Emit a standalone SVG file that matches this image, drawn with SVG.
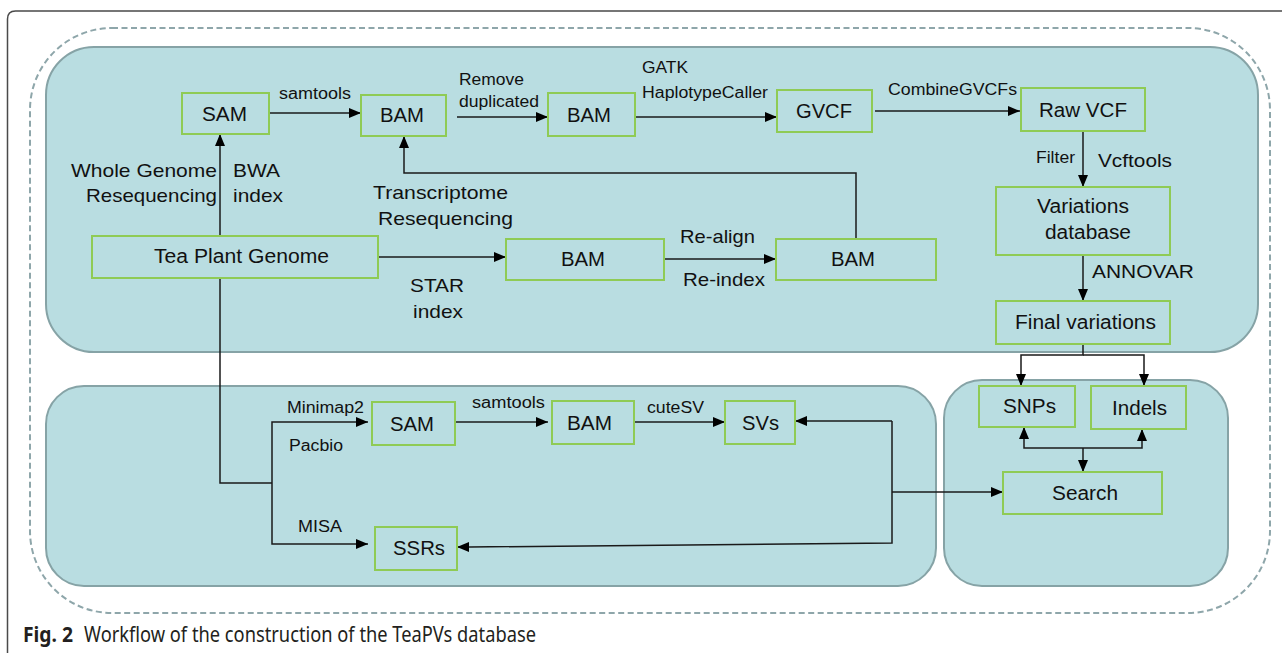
<svg xmlns="http://www.w3.org/2000/svg" width="1282" height="653" viewBox="0 0 1282 653">
  <defs>
    <marker id="arr" viewBox="0 0 12 10" refX="12" refY="5" markerWidth="12" markerHeight="10" markerUnits="userSpaceOnUse" orient="auto">
      <path d="M0,0 L12,5 L0,10 z" fill="#000"/>
    </marker>
    <style>
      .panel { fill: #b9dde1; stroke: #86a3a6; stroke-width: 2; }
      .node rect { fill: none; stroke: #8fcb55; stroke-width: 2; }
      .node text { font-family: "Liberation Sans", Arial, sans-serif; font-size: 20px; fill: #111; }
      .lbl { font-family: "Liberation Sans", Arial, sans-serif; fill: #111; }
      .sm { font-size: 16px; }
      .lg { font-size: 19px; }
      .conn path { fill: none; stroke: #1a1a1a; stroke-width: 1.5; }
      .cap { font-family: "Noto Sans", "Open Sans", sans-serif; font-size: 21px; fill: #231f20; }
    </style>
  </defs>

  <rect width="1282" height="653" fill="#ffffff"/>

  <!-- page frame -->
  <path d="M7.5,653 V19 Q7.5,11 15.5,11 H1282" fill="none" stroke="#4a4a4a" stroke-width="1.5"/>

  <!-- dashed outline around all stages -->
  <rect x="30" y="28" width="1240" height="585" rx="82" fill="none" stroke="#8ea6aa" stroke-width="2" stroke-dasharray="6 3.5"/>

  <!-- stage panels -->
  <rect id="panel-top" class="panel" x="46" y="47" width="1212" height="305" rx="48"/>
  <rect id="panel-bottom-left" class="panel" x="46" y="386" width="890" height="200" rx="38"/>
  <rect id="panel-bottom-right" class="panel" x="944" y="380" width="284" height="206" rx="38"/>

  <!-- connectors -->
  <g id="connectors" class="conn">
    <path d="M269,113 H361" marker-end="url(#arr)"/>
    <path d="M457,117 H548" marker-end="url(#arr)"/>
    <path d="M636,117 H777" marker-end="url(#arr)"/>
    <path d="M875,111 H1020" marker-end="url(#arr)"/>
    <path d="M1083,131 V187" marker-end="url(#arr)"/>
    <path d="M1083,255 V301" marker-end="url(#arr)"/>
    <path d="M1083,344 V355 H1021 V386" marker-end="url(#arr)"/>
    <path d="M1083,355 H1144 V386" marker-end="url(#arr)"/>
    <path d="M1083,448 V472" marker-end="url(#arr)"/>
    <path d="M1083,448 H1024 V427" marker-end="url(#arr)"/>
    <path d="M1083,448 H1142 V429" marker-end="url(#arr)"/>
    <path d="M220,236 V134" marker-end="url(#arr)"/>
    <path d="M220,278 V483 H272"/>
    <path d="M272,483 V422 H368" marker-end="url(#arr)"/>
    <path d="M272,483 V544 H368" marker-end="url(#arr)"/>
    <path d="M456,422 H548" marker-end="url(#arr)"/>
    <path d="M634,422 H725" marker-end="url(#arr)"/>
    <path d="M892,421 H795" marker-end="url(#arr)"/>
    <path d="M892,421 V543 L470,547 H457" marker-end="url(#arr)"/>
    <path d="M892,492 H1003" marker-end="url(#arr)"/>
    <path d="M378,257 H506" marker-end="url(#arr)"/>
    <path d="M664,259 H776" marker-end="url(#arr)"/>
    <path d="M856,239 V173 H404 V136" marker-end="url(#arr)"/>
  </g>

  <!-- nodes -->
  <g id="sam-top" class="node"><rect x="182" y="93" width="87" height="41"/><text x="202" y="121" textLength="45" lengthAdjust="spacingAndGlyphs">SAM</text></g>
  <g id="bam-1" class="node"><rect x="361" y="95" width="85" height="41"/><text x="380" y="122" textLength="44" lengthAdjust="spacingAndGlyphs">BAM</text></g>
  <g id="bam-2" class="node"><rect x="548" y="93" width="87" height="43"/><text x="567" y="122" textLength="44" lengthAdjust="spacingAndGlyphs">BAM</text></g>
  <g id="gvcf" class="node"><rect x="777" y="90" width="95" height="42"/><text x="796" y="118" textLength="56" lengthAdjust="spacingAndGlyphs">GVCF</text></g>
  <g id="raw-vcf" class="node"><rect x="1021" y="88" width="124" height="43"/><text x="1039" y="117" textLength="88" lengthAdjust="spacingAndGlyphs">Raw VCF</text></g>
  <g id="variations-db" class="node"><rect x="996" y="187" width="174" height="68"/>
    <text x="1037" y="213" textLength="92" lengthAdjust="spacingAndGlyphs">Variations</text>
    <text x="1045" y="239" textLength="86" lengthAdjust="spacingAndGlyphs">database</text></g>
  <g id="final-variations" class="node"><rect x="996" y="301" width="174" height="43"/><text x="1015" y="329" textLength="141" lengthAdjust="spacingAndGlyphs">Final variations</text></g>
  <g id="tea-genome" class="node"><rect x="92" y="236" width="286" height="42"/><text x="154" y="263" textLength="175" lengthAdjust="spacingAndGlyphs">Tea Plant Genome</text></g>
  <g id="bam-3" class="node"><rect x="506" y="239" width="158" height="41"/><text x="561" y="266" textLength="44" lengthAdjust="spacingAndGlyphs">BAM</text></g>
  <g id="bam-4" class="node"><rect x="776" y="239" width="160" height="41"/><text x="831" y="266" textLength="44" lengthAdjust="spacingAndGlyphs">BAM</text></g>
  <g id="sam-bottom" class="node"><rect x="372" y="402" width="83" height="43"/><text x="390" y="431" textLength="44" lengthAdjust="spacingAndGlyphs">SAM</text></g>
  <g id="ssrs" class="node"><rect x="375" y="527" width="82" height="43"/><text x="393" y="555" textLength="52" lengthAdjust="spacingAndGlyphs">SSRs</text></g>
  <g id="bam-bottom" class="node"><rect x="552" y="401" width="82" height="43"/><text x="567" y="430" textLength="45" lengthAdjust="spacingAndGlyphs">BAM</text></g>
  <g id="svs" class="node"><rect x="725" y="401" width="70" height="43"/><text x="742" y="430" textLength="37" lengthAdjust="spacingAndGlyphs">SVs</text></g>
  <g id="snps" class="node"><rect x="979" y="386" width="96" height="41"/><text x="1003" y="413" textLength="53" lengthAdjust="spacingAndGlyphs">SNPs</text></g>
  <g id="indels" class="node"><rect x="1091" y="386" width="95" height="43"/><text x="1112" y="415" textLength="55" lengthAdjust="spacingAndGlyphs">Indels</text></g>
  <g id="search" class="node"><rect x="1003" y="472" width="159" height="42"/><text x="1052" y="500" textLength="66" lengthAdjust="spacingAndGlyphs">Search</text></g>

  <!-- connector labels -->
  <g id="labels">
    <text class="lbl sm" x="279" y="99" textLength="72" lengthAdjust="spacingAndGlyphs">samtools</text>
    <text class="lbl sm" x="459" y="85" textLength="65" lengthAdjust="spacingAndGlyphs">Remove</text>
    <text class="lbl sm" x="459" y="107" textLength="80" lengthAdjust="spacingAndGlyphs">duplicated</text>
    <text class="lbl sm" x="642" y="73" textLength="46" lengthAdjust="spacingAndGlyphs">GATK</text>
    <text class="lbl sm" x="642" y="98" textLength="126" lengthAdjust="spacingAndGlyphs">HaplotypeCaller</text>
    <text class="lbl sm" x="888" y="95" textLength="129" lengthAdjust="spacingAndGlyphs">CombineGVCFs</text>
    <text class="lbl sm" x="1036" y="163" textLength="39" lengthAdjust="spacingAndGlyphs">Filter</text>
    <text class="lbl lg" x="1098" y="167" textLength="74" lengthAdjust="spacingAndGlyphs">Vcftools</text>
    <text class="lbl lg" x="1092" y="278" textLength="102" lengthAdjust="spacingAndGlyphs">ANNOVAR</text>
    <text class="lbl lg" x="71" y="177" textLength="146" lengthAdjust="spacingAndGlyphs">Whole Genome</text>
    <text class="lbl lg" x="86" y="202" textLength="131" lengthAdjust="spacingAndGlyphs">Resequencing</text>
    <text class="lbl lg" x="233" y="177" textLength="47" lengthAdjust="spacingAndGlyphs">BWA</text>
    <text class="lbl lg" x="233" y="202" textLength="50" lengthAdjust="spacingAndGlyphs">index</text>
    <text class="lbl lg" x="373" y="199" textLength="135" lengthAdjust="spacingAndGlyphs">Transcriptome</text>
    <text class="lbl lg" x="378" y="225" textLength="135" lengthAdjust="spacingAndGlyphs">Resequencing</text>
    <text class="lbl lg" x="410" y="292" textLength="54" lengthAdjust="spacingAndGlyphs">STAR</text>
    <text class="lbl lg" x="413" y="318" textLength="50" lengthAdjust="spacingAndGlyphs">index</text>
    <text class="lbl lg" x="680" y="243" textLength="75" lengthAdjust="spacingAndGlyphs">Re-align</text>
    <text class="lbl lg" x="683" y="286" textLength="82" lengthAdjust="spacingAndGlyphs">Re-index</text>
    <text class="lbl sm" x="287" y="413" textLength="77" lengthAdjust="spacingAndGlyphs">Minimap2</text>
    <text class="lbl sm" x="289" y="451" textLength="54" lengthAdjust="spacingAndGlyphs">Pacbio</text>
    <text class="lbl sm" x="298" y="532" textLength="44" lengthAdjust="spacingAndGlyphs">MISA</text>
    <text class="lbl sm" x="472" y="408" textLength="73" lengthAdjust="spacingAndGlyphs">samtools</text>
    <text class="lbl sm" x="647" y="413" textLength="57" lengthAdjust="spacingAndGlyphs">cuteSV</text>
  </g>

  <!-- caption -->
  <text class="cap" x="23" y="642" font-weight="bold" textLength="50" lengthAdjust="spacingAndGlyphs">Fig. 2</text>
  <text class="cap" x="84" y="642" textLength="452" lengthAdjust="spacingAndGlyphs">Workflow of the construction of the TeaPVs database</text>
</svg>
